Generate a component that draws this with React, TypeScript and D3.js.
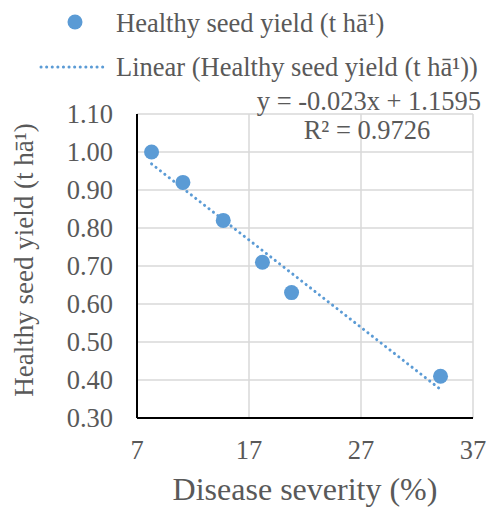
import * as d3 from 'd3'

const severity = [8.3, 11.1, 14.7, 18.2, 20.8, 34.1]
const seedYield = [1.0, 0.92, 0.82, 0.71, 0.63, 0.41]
const xTicks = [7, 17, 27, 37]
const yTicks = [0.3, 0.4, 0.5, 0.6, 0.7, 0.8, 0.9, 1.0, 1.1]
const slope = -0.023
const intercept = 1.1595
const seriesName = 'Healthy seed yield (t hā¹)'

const FONT = 'Liberation Serif'

export default function App() {
  const width = 487
  const height = 511
  const m = { left: 137, right: 473, top: 114, bottom: 418 }
  const blue = '#5b9bd5'
  const grey = '#595959'
  const fs = 26.5

  const x = d3.scaleLinear().domain([7, 37]).range([m.left, m.right])
  const y = d3.scaleLinear().domain([0.3, 1.1]).range([m.bottom, m.top])

  const xMin = d3.min(severity) as number
  const xMax = d3.max(severity) as number
  const trend = d3.line<number>()
    .x(d => x(d))
    .y(d => y(slope * d + intercept))([xMin, xMax])

  return (
    <svg width={width} height={height}
      style={{ position: 'absolute', left: 0, top: 0, background: '#fff' }}>
      {/* grid */}
      {yTicks.map(t => (
        <line key={'gy' + t} x1={m.left} x2={m.right} y1={y(t)} y2={y(t)}
          stroke="#d9d9d9" strokeWidth={1.5} />
      ))}
      {xTicks.map(t => (
        <line key={'gx' + t} x1={x(t)} x2={x(t)} y1={m.top} y2={m.bottom}
          stroke="#d9d9d9" strokeWidth={1.5} />
      ))}
      {/* axes */}
      <line x1={m.left} x2={m.left} y1={m.top} y2={m.bottom} stroke="#000" strokeWidth={2} />
      <line x1={m.left} x2={m.right} y1={m.bottom} y2={m.bottom} stroke="#000" strokeWidth={2} />

      {yTicks.map(t => (
        <text key={'ty' + t} x={113} y={y(t) + 8.5} textAnchor="end"
          fontSize={fs} fill={grey} fontFamily={FONT}>{t.toFixed(2)}</text>
      ))}
      {xTicks.map(t => (
        <text key={'tx' + t} x={x(t)} y={458.5} textAnchor="middle"
          fontSize={fs} fill={grey} fontFamily={FONT}>{t}</text>
      ))}

      <text x={305} y={500} textAnchor="middle" fontSize={32} fill={grey} fontFamily={FONT}>
        Disease severity (%)
      </text>
      <text transform={`translate(33,260) rotate(-90)`}
        textAnchor="middle" fontSize={27} fill={grey} fontFamily={FONT}>
        {seriesName}
      </text>

      {/* trendline */}
      <path d={trend ?? ''} fill="none" stroke={blue} strokeWidth={3}
        strokeDasharray="0.1 5.5" strokeLinecap="round" />

      {severity.map((s, i) => (
        <circle key={i} cx={x(s)} cy={y(seedYield[i])} r={7.5} fill={blue} />
      ))}

      {/* equation */}
      <text x={481} y={110} textAnchor="end" fontSize={fs} fill={grey} fontFamily={FONT}>y = -0.023x + 1.1595</text>
      <text x={367} y={139} textAnchor="middle" fontSize={fs} fill={grey} fontFamily={FONT}>R² = 0.9726</text>

      {/* legend */}
      <circle cx={75} cy={22} r={7.5} fill={blue} />
      <text x={116} y={32} fontSize={fs} fill={grey} fontFamily={FONT}>{seriesName}</text>
      <line x1={41} x2={108} y1={67} y2={67} stroke={blue} strokeWidth={3}
        strokeDasharray="0.1 5.5" strokeLinecap="round" />
      <text x={116} y={76} fontSize={fs} fill={grey} fontFamily={FONT}>{'Linear (' + seriesName + ')'}</text>
    </svg>
  )
}
